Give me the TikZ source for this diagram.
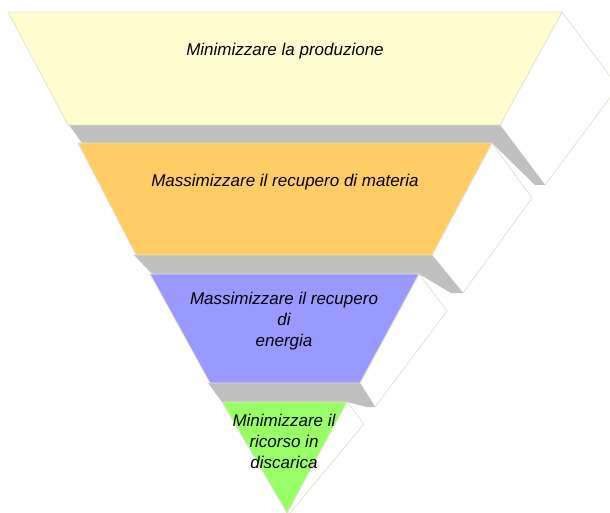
\documentclass[tikz,border=0pt]{standalone}
\usepackage{fontspec}
\setmainfont{Liberation Sans}
\definecolor{LevelYellow}{RGB}{255, 253, 208}
\definecolor{LevelOrange}{RGB}{255, 204, 102}
\definecolor{LevelBlue}{RGB}{153, 153, 255}
\definecolor{LevelGreen}{RGB}{153, 255, 102}
\definecolor{ShadeGray}{RGB}{192, 192, 192}
\definecolor{EdgeBeige}{RGB}{228, 228, 208}
\newcommand{\lw}{0.8pt}

\begin{document}
\begin{tikzpicture}[x=1pt, y=-1pt,
  front/.style={draw=EdgeBeige, line width=\lw},
  side/.style={fill=white, draw=EdgeBeige, line width=\lw},
  under/.style={fill=ShadeGray},
  leveltext/.style={font=\fontsize{17}{21}\selectfont\itshape, align=center, inner sep=0pt}]
  \useasboundingbox (0,0) rectangle (610,513);
  \clip (0,0) rectangle (610,513);
  % white side faces
  \draw[side] (562,12) -- (618,87) -- (545,185) -- (500,125) -- cycle;
  \draw[side] (492,143) -- (532,198) -- (463,293) -- (432,255) -- cycle;
  \draw[side] (419,274) -- (447,311) -- (375,407) -- (360,383) -- cycle;
  \draw[side] (347,402) -- (364,424) -- (290,513) -- (287,513) -- cycle;
  % grey undersides
  \fill[under] (69,125) -- (500,125) -- (545,185) -- (535,185) -- (492,143) -- (82,143) -- cycle;
  \fill[under] (134,255) -- (432,255) -- (463,293) -- (451,293) -- (419,274) -- (152,274) -- cycle;
  \fill[under] (208,383) -- (360,383) -- (375,407) -- (367,407) -- (347,402) -- (222,402) -- cycle;
  % front faces
  \draw[front, fill=LevelYellow] (8,12) -- (562,12) -- (500,125) -- (68,125) -- cycle;
  \draw[front, fill=LevelOrange] (78,143) -- (492,143) -- (432,255) -- (136,255) -- cycle;
  \draw[front, fill=LevelBlue] (150,274) -- (419,274) -- (360,383) -- (210,383) -- cycle;
  \draw[front, fill=LevelGreen] (222,402) -- (347,402) -- (287,513) -- cycle;
  % texts
  \node[leveltext, anchor=base] (prod) at (285,56) {Minimizzare la produzione};
  \node[leveltext, anchor=base] (mat) at (285,186) {Massimizzare il recupero di materia};
  \node[leveltext] (ener) at (284,321) {Massimizzare il recupero\\di\\energia};
  \node[leveltext] (disc) at (284,441) {Minimizzare il\\ricorso in\\discarica};
\end{tikzpicture}
\end{document}
